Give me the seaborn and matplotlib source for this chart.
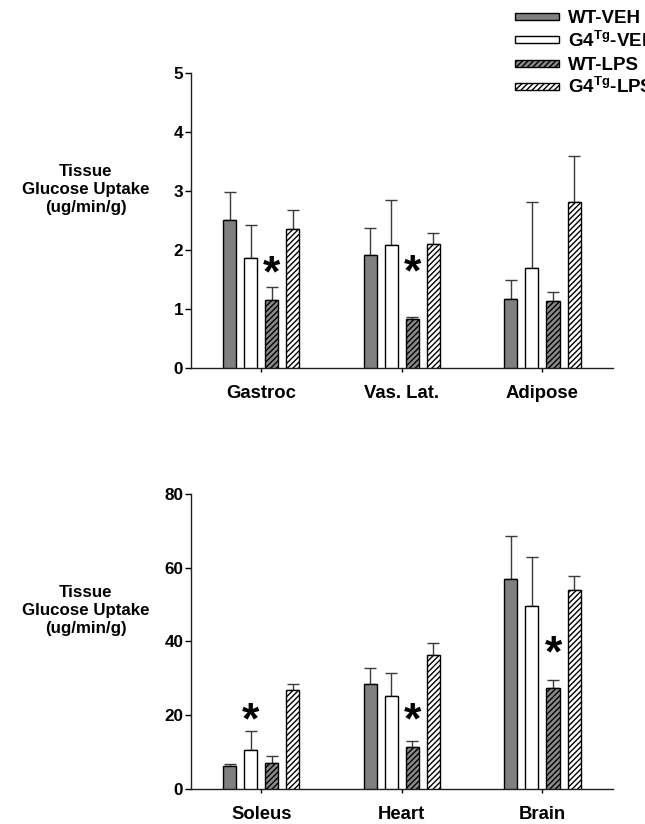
import numpy as np
import pandas as pd
import matplotlib
matplotlib.use("Agg")
import matplotlib.pyplot as plt
import seaborn as sns
from matplotlib import transforms
from matplotlib.container import BarContainer
from matplotlib.patches import Rectangle
from matplotlib.legend_handler import HandlerPatch

# ---------------- data ----------------
groups = ["WT-VEH", "G4-VEH", "WT-LPS", "G4-LPS"]
legend_labels = ["WT-VEH", r"G4$^{\mathrm{Tg}}$-VEH", "WT-LPS", r"G4$^{\mathrm{Tg}}$-LPS"]

top_tissues = ["Gastroc", "Vas. Lat.", "Adipose"]
top_means = {
    "WT-VEH": [2.51, 1.91, 1.17],
    "G4-VEH": [1.86, 2.08, 1.69],
    "WT-LPS": [1.16, 0.83, 1.14],
    "G4-LPS": [2.36, 2.11, 2.81],
}
top_err = {
    "WT-VEH": [0.48, 0.47, 0.33],
    "G4-VEH": [0.57, 0.76, 1.12],
    "WT-LPS": [0.21, 0.04, 0.15],
    "G4-LPS": [0.32, 0.18, 0.78],
}
top_stars = [("Gastroc", "WT-LPS", 1.75), ("Vas. Lat.", "WT-LPS", 1.76)]

bot_tissues = ["Soleus", "Heart", "Brain"]
bot_means = {
    "WT-VEH": [6.2, 28.4, 56.9],
    "G4-VEH": [10.7, 25.2, 49.7],
    "WT-LPS": [7.0, 11.3, 27.3],
    "G4-LPS": [26.8, 36.2, 54.0],
}
bot_err = {
    "WT-VEH": [0.6, 4.5, 11.7],
    "G4-VEH": [4.9, 6.2, 13.3],
    "WT-LPS": [2.0, 1.7, 2.3],
    "G4-LPS": [1.8, 3.5, 3.8],
}
bot_stars = [("Soleus", "G4-VEH", 21.0), ("Heart", "WT-LPS", 21.0), ("Brain", "WT-LPS", 39.2)]

top_yticks = [0, 1, 2, 3, 4, 5]
bot_yticks = [0, 20, 40, 60, 80]
ylabel_text = "Tissue\nGlucose Uptake\n(ug/min/g)"

# ---------------- style ----------------
sns.set_theme(style="white")
plt.rcParams["font.family"] = ["Liberation Sans", "DejaVu Sans"]
plt.rcParams["font.weight"] = "bold"
plt.rcParams["text.color"] = "black"
plt.rcParams["xtick.color"] = "black"
plt.rcParams["ytick.color"] = "black"
plt.rcParams["mathtext.fontset"] = "custom"
plt.rcParams["mathtext.rm"] = "Liberation Sans:bold"
plt.rcParams["mathtext.bf"] = "Liberation Sans:bold"
plt.rcParams["hatch.linewidth"] = 1.0

palette = {"WT-VEH": "#808080", "G4-VEH": "#ffffff", "WT-LPS": "#8a8a8a", "G4-LPS": "#ffffff"}
hatches = {"WT-VEH": "", "G4-VEH": "", "WT-LPS": "//////", "G4-LPS": "//////"}

TICK_FS = 12.3
CAT_FS = 13.3
YLAB_FS = 12.2
LEG_FS = 13.5
STAR_FS = 32

fig = plt.figure(figsize=(6.45, 8.24), dpi=100)
ax_top = fig.add_axes([0.296, 0.5534, 0.654, 0.358])
ax_bot = fig.add_axes([0.296, 0.0425, 0.654, 0.358])


def make_df(tissues, means, errs):
    rows = []
    for g in groups:
        for t, m, e in zip(tissues, means[g], errs[g]):
            rows.append({"tissue": t, "group": g, "value": m, "err": e})
    return pd.DataFrame(rows)


def draw(ax, tissues, means, errs, stars, yticks, ylabel_y):
    df = make_df(tissues, means, errs)
    sns.barplot(data=df, x="tissue", y="value", hue="group", order=tissues,
                hue_order=groups, palette=palette, saturation=1, width=0.6,
                gap=0.38, edgecolor="black", linewidth=1.0, errorbar=None,
                legend=False, ax=ax)
    bars = [c for c in ax.containers if isinstance(c, BarContainer)]
    centers = {}
    for g, cont in zip(groups, bars):
        xs = []
        for p in cont.patches:
            p.set_hatch(hatches[g])
            p.set_zorder(3)
            xs.append(p.get_x() + p.get_width() / 2)
        centers[g] = xs
        ax.errorbar(xs, means[g], yerr=[np.zeros(len(xs)), errs[g]], fmt="none",
                    ecolor="#3a3a3a", elinewidth=1.0, capsize=4, capthick=1.0, zorder=2)
    star_tr = transforms.offset_copy(ax.transData, fig=fig, x=0, y=-0.23 * STAR_FS, units="points")
    for t, g, y in stars:
        x = centers[g][tissues.index(t)]
        ax.text(x, y, "*", ha="center", va="center", fontsize=STAR_FS, fontweight="bold",
                color="black", transform=star_tr)
    ax.set_ylim(yticks[0], yticks[-1])
    ax.set_xlim(-0.5, 2.5)
    ax.set_yticks(yticks)
    ax.set_yticklabels([str(v) for v in yticks], fontsize=TICK_FS, fontweight="bold")
    ax.set_xticks(range(len(tissues)))
    ax.set_xticklabels(tissues, fontsize=CAT_FS, fontweight="bold")
    ax.set_xlabel("")
    ax.set_ylabel("")
    for s in ["top", "right"]:
        ax.spines[s].set_visible(False)
    for s in ["left", "bottom"]:
        ax.spines[s].set_color("#202020")
        ax.spines[s].set_linewidth(1.0)
    ax.tick_params(axis="y", direction="out", length=4, width=1, pad=1.5, left=True)
    ax.tick_params(axis="x", direction="out", length=3, width=1, pad=9.5, bottom=True)
    trans = transforms.blended_transform_factory(ax.transAxes, ax.transData)
    ax.text(-0.249, ylabel_y, ylabel_text, transform=trans, ha="center", va="center",
            multialignment="center", fontsize=YLAB_FS, fontweight="bold", linespacing=1.25)
    return bars


top_bars = draw(ax_top, top_tissues, top_means, top_err, top_stars, top_yticks, 3.02)
draw(ax_bot, bot_tissues, bot_means, bot_err, bot_stars, bot_yticks, 48.3)


def slim_patch(legend, orig_handle, xdescent, ydescent, width, height, fontsize):
    h = 5.0
    yc = 0.36 * fontsize
    return Rectangle((-xdescent, yc - h / 2), width, h)


handles = [c.patches[0] for c in top_bars]
fig.legend(handles, legend_labels, loc="upper left", bbox_to_anchor=(0.798, 0.993),
           frameon=False, handlelength=2.35, handleheight=1.5,
           handletextpad=0.48, labelspacing=0.02, borderpad=0, borderaxespad=0,
           prop={"weight": "bold", "size": LEG_FS},
           handler_map={Rectangle: HandlerPatch(patch_func=slim_patch)})

fig.savefig("out.png", dpi=100)
